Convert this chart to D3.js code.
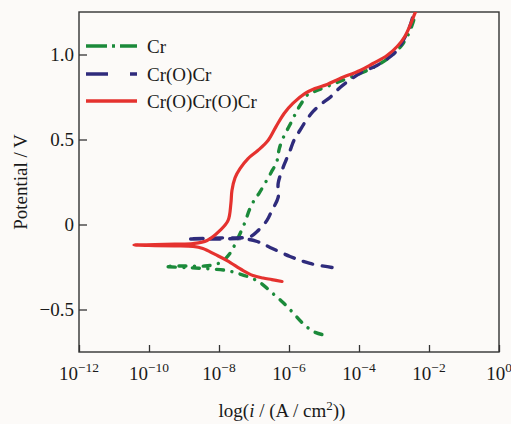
<!DOCTYPE html>
<html>
<head>
<meta charset="utf-8">
<script src="https://cdn.jsdelivr.net/npm/d3@7"></script>
<style>
  html, body { margin: 0; padding: 0; background: #fcfaf8; }
  svg { display: block; }
  text { font-family: "Liberation Serif", "Times New Roman", serif; fill: #1a1a1a; }
</style>
</head>
<body>
<svg id="chart" width="511" height="424"></svg>
<script>
// Polarization curves: log10 of current density (A/cm^2) and potential (V),
// each traced along the sweep from the cathodic end, through Ecorr, up the anodic branch.
const seriesNames = ["Cr", "Cr(O)Cr", "Cr(O)Cr(O)Cr"];

const crLogI = [-5.06, -5.31, -5.60, -5.89, -6.17, -6.46, -6.83, -7.11, -7.46, -7.77, -8.40, -8.97, -9.54,
  -8.97, -8.40, -8.11, -7.91, -7.69, -7.49, -7.26, -7.14, -7.00, -6.86, -6.69, -6.51, -6.37, -6.31, -6.29, -6.20,
  -6.06, -5.91, -5.77, -5.63, -5.46, -5.20, -4.63, -3.97, -3.49, -3.03, -2.74, -2.54, -2.37];
const crV = [-0.647, -0.629, -0.582, -0.518, -0.459, -0.406, -0.341, -0.312, -0.288, -0.271, -0.259, -0.253, -0.247,
  -0.244, -0.244, -0.235, -0.218, -0.171, -0.094, 0.012, 0.082, 0.141, 0.182, 0.241, 0.306, 0.359, 0.400, 0.435, 0.494,
  0.553, 0.612, 0.671, 0.718, 0.765, 0.788, 0.835, 0.888, 0.935, 1.000, 1.065, 1.141, 1.247];

const crOCrLogI = [-4.77, -5.40, -5.97, -6.54, -6.91, -7.26, -7.97, -8.91,
  -7.97, -7.11, -6.91, -6.63, -6.49, -6.31, -6.31, -6.20, -6.09, -5.97, -5.86, -5.69, -5.51, -5.31,
  -5.06, -4.83, -4.54, -4.20, -3.89, -3.49, -2.91, -2.74, -2.57, -2.46];
const crOCrV = [-0.253, -0.229, -0.188, -0.135, -0.100, -0.085, -0.085, -0.085,
  -0.079, -0.071, -0.041, 0.024, 0.082, 0.159, 0.241, 0.318, 0.376, 0.435, 0.494, 0.553, 0.612, 0.665,
  0.712, 0.747, 0.806, 0.859, 0.900, 0.935, 1.024, 1.082, 1.153, 1.224];

const crOCrOCrLogI = [-6.20, -6.49, -6.74, -7.03, -7.31, -7.77, -8.11, -8.46, -8.74, -9.26, -9.83, -10.43,
  -9.83, -9.26, -8.74, -8.34, -7.97, -7.74, -7.66, -7.63, -7.54, -7.40, -7.17, -6.89, -6.60, -6.37, -6.14,
  -5.89, -5.54, -5.26, -4.91, -4.54, -3.97, -3.60, -3.20, -2.91, -2.69, -2.54, -2.43, -2.34];
const crOCrOCrV = [-0.335, -0.324, -0.315, -0.300, -0.271, -0.212, -0.176, -0.141, -0.129, -0.126, -0.124, -0.121,
  -0.118, -0.115, -0.112, -0.094, -0.035, 0.024, 0.124, 0.200, 0.276, 0.329, 0.388, 0.435, 0.494, 0.576, 0.653,
  0.712, 0.771, 0.800, 0.824, 0.859, 0.906, 0.947, 0.994, 1.047, 1.106, 1.171, 1.229, 1.271];

const xTickExponents = [-12, -10, -8, -6, -4, -2, 0];
const yTickValues = [-0.5, 0, 0.5, 1.0];
const yTickLabels = ["\u22120.5", "0", "0.5", "1.0"];

const colors = ["#1b8a3a", "#2f2b7c", "#e5322f"];
// round caps lengthen each dash by the stroke width, so gaps are set wider
const dashes = ["7,8.5,0.1,8.5", "10,9.5", null];
const legendDashes = ["21,5,3,5", "22,22", null];

// ---- layout ----
const svg = d3.select("#chart");
const plot = { left: 79, right: 499, top: 12, bottom: 352 };

const x = d3.scaleLog().domain([1e-12, 1]).range([plot.left, plot.right]);
const y = d3.scaleLinear().domain([-0.75, 1.25]).range([plot.bottom, plot.top]);

svg.append("defs").append("clipPath").attr("id", "plotClip")
  .append("rect")
  .attr("x", plot.left).attr("y", plot.top)
  .attr("width", plot.right - plot.left).attr("height", plot.bottom - plot.top);

// ---- axes (ticks point inward) ----
const xAxis = d3.axisBottom(x)
  .tickValues(xTickExponents.map(e => Math.pow(10, e)))
  .tickSizeInner(-7).tickSizeOuter(0).tickFormat("");
const gx = svg.append("g").attr("transform", `translate(0,${plot.bottom})`).call(xAxis);
gx.select(".domain").remove();
gx.selectAll(".tick line").attr("stroke", "#333").attr("stroke-width", 1.3);

xTickExponents.forEach(e => {
  const t = svg.append("text")
    .attr("x", x(Math.pow(10, e)))
    .attr("y", 380)
    .attr("text-anchor", "middle")
    .style("font-size", "19px");
  t.append("tspan").text("10");
  t.append("tspan").attr("dy", -8).style("font-size", "13.5px")
    .text(e < 0 ? "\u2212" + Math.abs(e) : String(e));
});

const yAxis = d3.axisLeft(y)
  .tickValues(yTickValues)
  .tickSizeInner(-8).tickSizeOuter(0)
  .tickFormat((d, i) => yTickLabels[i]);
const gy = svg.append("g").attr("transform", `translate(${plot.left},0)`).call(yAxis);
gy.select(".domain").remove();
gy.selectAll(".tick line").attr("stroke", "#333").attr("stroke-width", 1.3);
gy.selectAll(".tick text")
  .attr("x", -5)
  .style("font-family", "'Liberation Serif', serif")
  .style("font-size", "19px")
  .attr("fill", "#1a1a1a");

// frame
svg.append("rect")
  .attr("x", plot.left).attr("y", plot.top)
  .attr("width", plot.right - plot.left).attr("height", plot.bottom - plot.top)
  .attr("fill", "none").attr("stroke", "#333").attr("stroke-width", 1.4);

// ---- curves ----
const line = d3.line()
  .x(d => x(Math.pow(10, d[0])))
  .y(d => y(d[1]))
  .curve(d3.curveCatmullRom.alpha(0.5));

const seriesData = [
  d3.zip(crLogI, crV),
  d3.zip(crOCrLogI, crOCrV),
  d3.zip(crOCrOCrLogI, crOCrOCrV)
];

const curves = svg.append("g").attr("clip-path", "url(#plotClip)");
seriesData.forEach((pts, i) => {
  curves.append("path")
    .datum(pts)
    .attr("d", line)
    .attr("fill", "none")
    .attr("stroke", colors[i])
    .attr("stroke-width", i === 2 ? 3.2 : 3.4)
    .attr("stroke-linecap", "round")
    .attr("stroke-linejoin", "round")
    .attr("stroke-dasharray", dashes[i]);
});

// ---- legend ----
const legendRows = [46, 74, 101];
seriesNames.forEach((name, i) => {
  svg.append("line")
    .attr("x1", 86).attr("x2", 137)
    .attr("y1", legendRows[i]).attr("y2", legendRows[i])
    .attr("stroke", colors[i])
    .attr("stroke-width", 3.6)
    .attr("stroke-dasharray", legendDashes[i]);
  svg.append("text")
    .attr("x", 147).attr("y", legendRows[i] + 6.5)
    .style("font-size", "19px")
    .text(name);
});

// ---- axis titles ----
const xt = svg.append("text")
  .attr("x", 282).attr("y", 417)
  .attr("text-anchor", "middle")
  .style("font-size", "19px");
xt.append("tspan").text("log(");
xt.append("tspan").style("font-style", "italic").text("i");
xt.append("tspan").text(" / (A / cm");
xt.append("tspan").attr("dy", -7).style("font-size", "13px").text("2");
xt.append("tspan").attr("dy", 7).text("))");

svg.append("text")
  .attr("transform", `translate(27,${(plot.top + plot.bottom) / 2}) rotate(-90)`)
  .attr("text-anchor", "middle")
  .style("font-size", "19px")
  .text("Potential / V");
</script>
</body>
</html>
